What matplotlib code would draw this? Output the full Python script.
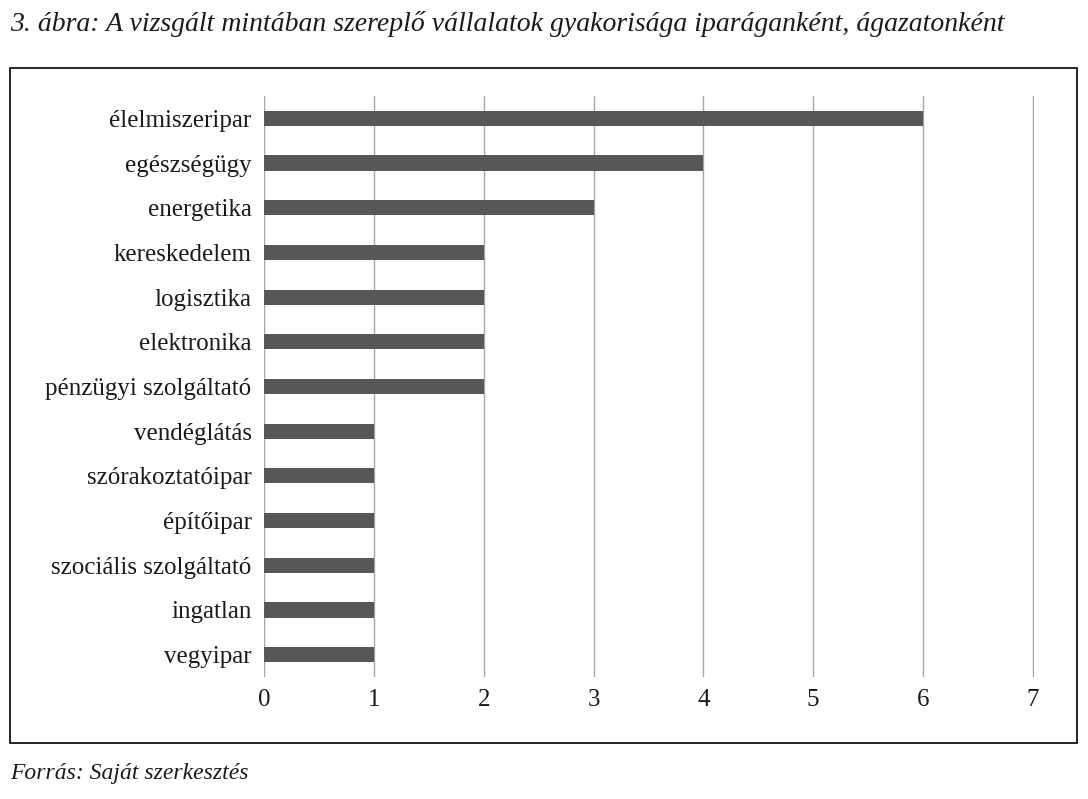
import matplotlib
matplotlib.use("Agg")
import matplotlib.pyplot as plt
from matplotlib.patches import Rectangle

categories = ["élelmiszeripar", "egészségügy", "energetika", "kereskedelem", "logisztika",
              "elektronika", "pénzügyi szolgáltató", "vendéglátás", "szórakoztatóipar",
              "építőipar", "szociális szolgáltató", "ingatlan", "vegyipar"]
counts = [6, 4, 3, 2, 2, 2, 2, 1, 1, 1, 1, 1, 1]
xticks = [0, 1, 2, 3, 4, 5, 6, 7]

plt.rcParams["font.family"] = ["Liberation Serif", "DejaVu Serif"]

W, H = 1088, 799
fig = plt.figure(figsize=(W / 100, H / 100), dpi=100)
ax = fig.add_axes([264 / W, 1 - 677 / H, (1034 - 264) / W, (677 - 96) / H])

y = list(range(len(categories)))
ax.barh(y, counts, height=0.34, color="#575757", zorder=3)
ax.set_ylim(len(categories) - 0.5, -0.5)
ax.set_xlim(0, 7.01)
ax.set_xticks(xticks)
ax.set_yticks(y)
ax.set_yticklabels(categories, fontsize=18, color="#1a1a1a")
ax.tick_params(axis="y", length=0, pad=9)
ax.tick_params(axis="x", length=0, pad=9, labelsize=18, labelcolor="#1a1a1a")
ax.grid(axis="x", color="#a6a6a6", lw=1, zorder=0)
for s in ax.spines.values():
    s.set_visible(False)

fig.patches.append(Rectangle((10 / W, 1 - 743 / H), (1077 - 10) / W, (743 - 68) / H,
                             transform=fig.transFigure, fill=False, ec="black", lw=1.2))
fig.text(10 / W, 1 - 24 / H, "3. ábra: A vizsgált mintában szereplő vállalatok gyakorisága iparáganként, ágazatonként",
         fontsize=20, style="italic", va="center", ha="left", color="#1a1a1a")
fig.text(10 / W, 1 - 774 / H, "Forrás: Saját szerkesztés", fontsize=17, style="italic",
         va="center", ha="left", color="#1a1a1a")

fig.savefig("out.png", dpi=100)
